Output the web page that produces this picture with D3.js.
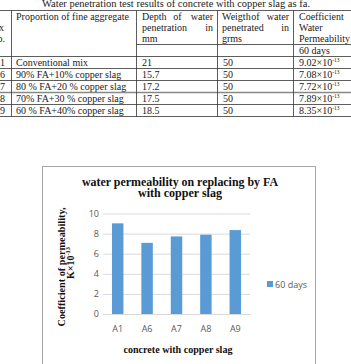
<!DOCTYPE html>
<html><head><meta charset="utf-8">
<script src="https://cdn.jsdelivr.net/npm/d3@7"></script>
<style>html,body{margin:0;padding:0;background:#fff;}svg{display:block;}</style>
</head><body>
<script>
// ---- data ----
const mixes = ["A1","A6","A7","A8","A9"];
const proportions = ["Conventional mix","90% FA+10%  copper slag","80 % FA+20 % copper slag","70% FA+30 %  copper slag","60 % FA+40%  copper slag"];
const depths = ["21","15.7","17.2","17.5","18.5"];
const weights = ["50","50","50","50","50"];
const coefficients = [9.02, 7.08, 7.72, 7.89, 8.35];
const yTicks = [0, 2, 4, 6, 8, 10];
const seriesName = "60 days";

const W = 351, H = 364;
const svg = d3.select("body").append("svg").attr("width", W).attr("height", H);
const serif = "'Liberation Serif','DejaVu Serif',serif";
const sans = "'Open Sans','Liberation Sans',sans-serif";

// ---- table ----
svg.append("text").attr("x", 176).attr("y", 7).attr("text-anchor","middle")
  .attr("font-family", serif).attr("font-size", 10).attr("fill","#222")
  .attr("textLength", 268).attr("lengthAdjust","spacingAndGlyphs")
  .text("Water penetration test results of concrete with copper slag as fa.");

const colX = [11.5, 136.5, 217.5, 293.5];
const tTop = 10.5, headBot = 56.5, subLine = 44.5, rowH = 12;
const tBot = headBot + rowH * mixes.length;
const g = svg.append("g");
const line = (x1,y1,x2,y2,c,w) => g.append("line").attr("x1",x1).attr("y1",y1).attr("x2",x2).attr("y2",y2)
  .attr("stroke", c || "#333").attr("stroke-width", w || 0.8);
line(0, tTop, W, tTop);
line(0, headBot, W, headBot);
line(colX[1], subLine, W, subLine);
mixes.forEach((m, i) => {
  const y = headBot + rowH * (i + 1);
  if (i === 2) line(0, y, W, y, "#888", 1.6); else line(0, y, W, y);
});
colX.forEach(x => line(x, tTop, x, tBot));

const txt = (x, y, s, anchor, size) => g.append("text").attr("x", x).attr("y", y)
  .attr("text-anchor", anchor || "start").attr("font-family", serif)
  .attr("font-size", size || 10).attr("fill", "#222").text(s);
// justified header words
const just = (x0, x1, y, words) => {
  const n = words.length;
  words.forEach((w, i) => {
    const xx = n === 1 ? x0 : x0 + (x1 - x0) * i / (n - 1);
    txt(xx, y, w, i === 0 ? "start" : (i === n - 1 ? "end" : "middle"));
  });
};
txt(4, 30.5, "Mix", "end");
txt(5, 41.5, "No.", "end");
txt(16, 19.5, "Proportion of fine aggregate");
just(142, 213, 19.5, ["Depth", "of", "water"]);
just(142, 213, 30.5, ["penetration", "in"]);
txt(142, 41.5, "mm");
just(222, 289, 19.5, ["Weigth", "of", "water"]);
just(222, 289, 30.5, ["penetrated", "in"]);
txt(222, 41.5, "grms");
txt(299, 19.5, "Coefficient");
txt(299, 30.5, "Water");
txt(299, 41.5, "Permeability");
txt(299, 53.5, "60 days");

mixes.forEach((m, i) => {
  const yb = headBot + rowH * i + 9.5;
  txt(5, yb, m, "end");
  txt(16, yb, proportions[i]);
  txt(142, yb, depths[i]);
  txt(223, yb, weights[i]);
  const t = txt(299, yb, coefficients[i].toFixed(2) + "×10");
  t.append("tspan").attr("font-size", 5.5).attr("dy", -4).text("-13");
});

// ---- chart ----
svg.append("rect").attr("x", 42.5).attr("y", 166.5).attr("width", 273).attr("height", 220)
  .attr("fill", "#fff").attr("stroke", "#a6a6a6").attr("stroke-width", 1);

const x = d3.scaleBand().domain(mixes).range([103, 250]).paddingInner(0.61).paddingOuter(0.305);
const y = d3.scaleLinear().domain([0, 10]).range([314, 213.5]);

const yAxis = svg.append("g").attr("transform", "translate(103,0)")
  .call(d3.axisLeft(y).tickValues(yTicks).tickSize(-147).tickPadding(4).tickFormat(d3.format("d")));
yAxis.select(".domain").remove();
yAxis.selectAll("line").attr("stroke", "#d9d9d9");
yAxis.selectAll("text").attr("font-family", sans).attr("font-size", 9).attr("fill", "#595959");

svg.append("g").selectAll("rect").data(coefficients).join("rect")
  .attr("x", (d, i) => x(mixes[i])).attr("width", x.bandwidth())
  .attr("y", d => y(d)).attr("height", d => y(0) - y(d)).attr("fill", "#5b9bd5");

const xAxis = svg.append("g").attr("transform", "translate(0,314)")
  .call(d3.axisBottom(x).tickSize(0).tickPadding(12));
xAxis.select(".domain").attr("stroke", "#d9d9d9");
xAxis.selectAll("text").attr("font-family", sans).attr("font-size", 9).attr("fill", "#595959");

const bold = (xx, yy, s, len, size) => svg.append("text").attr("x", xx).attr("y", yy)
  .attr("text-anchor", "middle").attr("font-family", serif).attr("font-weight", "bold")
  .attr("font-size", size).attr("fill", "#111")
  .attr("textLength", len).attr("lengthAdjust", "spacingAndGlyphs").text(s);
bold(180, 185.5, "water permeability on replacing by FA", 196, 11.5);
bold(180, 197, "with copper slag", 84, 11.5);
bold(178, 352.5, "concrete with copper slag", 109, 10);

const yt = svg.append("g").attr("transform", "rotate(-90)");
yt.append("text").attr("x", -267).attr("y", 64.5).attr("text-anchor", "middle")
  .attr("font-family", serif).attr("font-weight", "bold").attr("font-size", 10).attr("fill", "#111")
  .attr("textLength", 119).attr("lengthAdjust", "spacingAndGlyphs").text("Coefficient of permeability,");
const t2 = yt.append("text").attr("x", -263).attr("y", 74).attr("text-anchor", "middle")
  .attr("font-family", serif).attr("font-weight", "bold").attr("font-size", 10).attr("fill", "#111");
t2.append("tspan").text("K×10");
t2.append("tspan").attr("font-size", 6.5).attr("dy", -4).text("-13");

// legend
svg.append("rect").attr("x", 267).attr("y", 281).attr("width", 6).attr("height", 6).attr("fill", "#5b9bd5");
svg.append("text").attr("x", 275).attr("y", 287.5).attr("font-family", sans).attr("font-size", 9)
  .attr("fill", "#595959").text(seriesName);
</script>
</body></html>
